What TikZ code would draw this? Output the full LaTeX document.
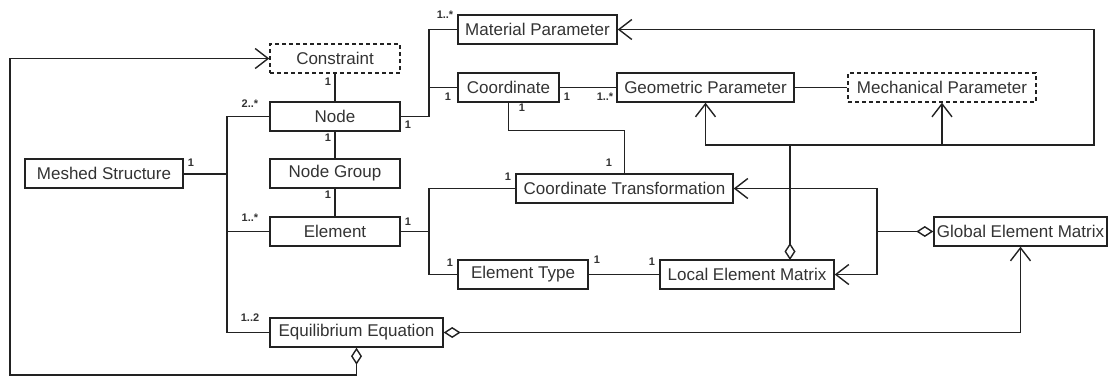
\documentclass[tikz,border=0pt]{standalone}
\usepackage{fontspec}
\setmainfont{Liberation Sans}
\usetikzlibrary{arrows.meta}
\definecolor{txt}{HTML}{333333}
\definecolor{ln}{HTML}{222222}
\tikzset{
  umlbox/.style={draw=ln, line width=1.4pt, rectangle, inner sep=0pt, minimum height=29pt, text=txt, font=\fontsize{17}{19}\selectfont},
  dbox/.style={umlbox, dashed, dash pattern=on 4pt off 3pt},
  mult/.style={inner sep=0pt, text=txt, font=\fontsize{11}{12}\selectfont\bfseries},
  conn/.style={draw=ln, line width=1.4pt},
  openarr/.style={-{Straight Barb[length=13pt,width=20pt,line width=1.4pt]}},
  diam/.style={{Diamond[length=17pt,width=11pt,fill=white,line width=1.4pt]}-},
  diamarr/.style={{Diamond[length=17pt,width=11pt,fill=white,line width=1.4pt]}-{Straight Barb[length=13pt,width=20pt,line width=1.4pt]}}
}
\begin{document}
\begin{tikzpicture}[x=1pt,y=-1pt]
\useasboundingbox (0,0) rectangle (1108,376);
% nodes
\node[dbox, minimum width=130pt] (constraint) at (335,58.5) {Constraint};
\node[umlbox, minimum width=130pt] (node) at (335,116.5) {Node};
\node[umlbox, minimum width=130pt] (ngroup) at (335,173.5) {Node Group};
\node[umlbox, minimum width=130pt] (element) at (335,231.5) {Element};
\node[umlbox, minimum width=173pt] (equil) at (356.5,332.5) {Equilibrium Equation};
\node[umlbox, minimum width=158pt] (meshed) at (104,173.5) {Meshed Structure};
\node[umlbox, minimum width=159pt] (material) at (537.5,29.5) {Material Parameter};
\node[umlbox, minimum width=101pt] (coord) at (508.5,87.5) {Coordinate};
\node[umlbox, minimum width=177pt] (geom) at (705.5,87.5) {Geometric Parameter};
\node[dbox, minimum width=188pt] (mech) at (942,87.5) {Mechanical Parameter};
\node[umlbox, minimum width=217pt] (ct) at (624.5,188.5) {Coordinate Transformation};
\node[umlbox, minimum width=130pt] (etype) at (523,274.5) {Element Type};
\node[umlbox, minimum width=174pt] (local) at (747,274.5) {Local Element Matrix};
\node[umlbox, minimum width=173pt] (global) at (1020.5,231.5) {Global Element Matrix};
% helper coordinates
\coordinate (busL) at (227,0);
\coordinate (busM) at (429,0);
\coordinate (jn) at (790,145);
\coordinate (rc) at (1094,145);
\coordinate (gj) at (877,231.5);
\coordinate (ll) at (10,375);
\coordinate (ld) at (790,260);
% vertical chain
\draw[conn] (constraint.south) -- (node.north);
\draw[conn] (node.south) -- (ngroup.north);
\draw[conn] (ngroup.south) -- (element.north);
% left bus
\draw[conn] (node.west) -| (busL |- equil.west) -- (equil.west);
\draw[conn] (element.west) -- (element.west -| busL);
\draw[conn, line width=2pt] (meshed.east) -- (meshed.east -| busL);
% node to material/coordinate
\draw[conn] (node.east) -| (busM |- material.west) -- (material.west);
\draw[conn] (coord.west) -- (coord.west -| busM);
\draw[conn] (coord.east) -- (geom.west);
\draw[conn] (geom.east) -- (mech.west);
\draw[conn] (coord.south) -- ++(0,28) -| (ct.north);
% element to ct / etype
\draw[conn] (ct.west) -| (busM |- etype.west) -- (etype.west);
\draw[conn] (element.east) -- (element.east -| busM);
\draw[conn] (etype.east) -- (local.west);
% local aggregation
\draw[conn, diam] (ld) -- (jn);
\draw[conn, openarr] (jn) -| (geom.south);
\draw[conn, openarr] (jn) -| (mech.south);
\draw[conn, openarr] (jn) -- (rc) |- (material.east);
% global aggregation
\draw[conn, diam] (global.west) -- (gj);
\draw[conn, openarr] (gj) |- (ct.east);
\draw[conn, openarr] (gj) |- (local.east);
% equilibrium
\draw[conn, diamarr] (equil.east) -| (global.south);
\draw[conn, diamarr] (equil.south) |- (ll) |- (constraint.west);
% multiplicities
\node[mult] (m1) at (328,82) {1};
\node[mult] (m2) at (250,104) {2..*};
\node[mult] (m3) at (328,138) {1};
\node[mult] (m4) at (328,195) {1};
\node[mult] (m5) at (191,163) {1};
\node[mult] (m6) at (250,218) {1..*};
\node[mult] (m7) at (250,318) {1..2};
\node[mult] (m8) at (445,15) {1..*};
\node[mult] (m9) at (408,125) {1};
\node[mult] (m10) at (448,97) {1};
\node[mult] (m11) at (567,97) {1};
\node[mult] (m12) at (605,97) {1..*};
\node[mult] (m13) at (522,108) {1};
\node[mult] (m14) at (609,163) {1};
\node[mult] (m15) at (508,177) {1};
\node[mult] (m16) at (408,222) {1};
\node[mult] (m17) at (450,263) {1};
\node[mult] (m18) at (597,260) {1};
\node[mult] (m19) at (652,262) {1};
\end{tikzpicture}
\end{document}
